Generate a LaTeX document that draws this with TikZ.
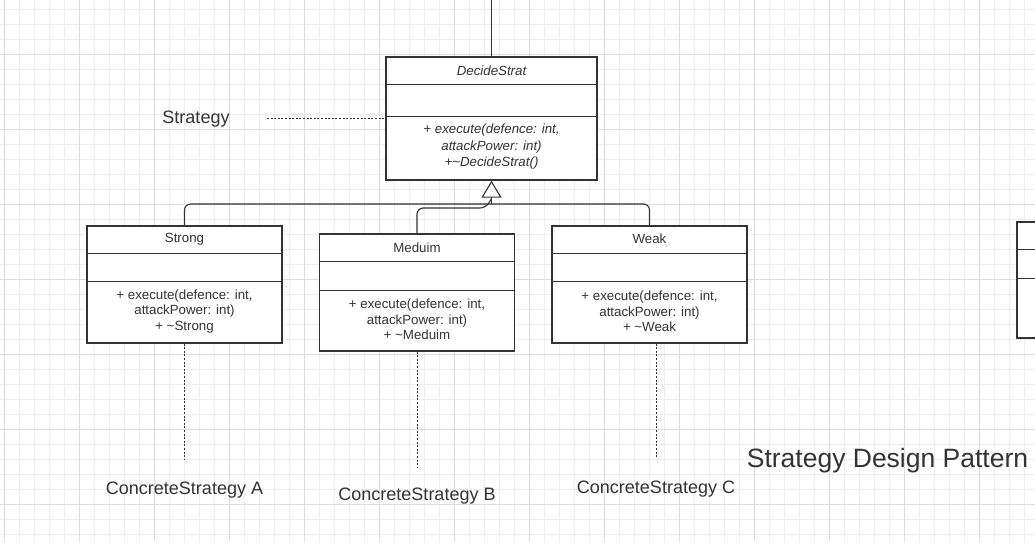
\documentclass[tikz,border=0pt]{standalone}
\usepackage{fontspec}
\setmainfont{Liberation Sans}
\usetikzlibrary{arrows.meta}
\definecolor{ink}{HTML}{333333}
\definecolor{gridminor}{HTML}{EEEEEE}
\definecolor{gridmajor}{HTML}{DDDDDD}
\begin{document}
\begin{tikzpicture}[x=1pt,y=-1pt,
  classbox/.style={draw=ink, line width=1.3pt, inner sep=0pt, fill=white},
  divider/.style={draw=ink, line width=1.2pt},
  body/.style={text=ink, font=\fontsize{13.3}{15.6}\selectfont, align=center, inner sep=0pt},
  italbody/.style={text=ink, font=\fontsize{13.3}{16.5}\selectfont\itshape, align=center, inner sep=0pt},
  biglabel/.style={text=ink, font=\fontsize{18}{22}\selectfont, anchor=base, inner sep=0pt},
  titlelabel/.style={text=ink, font=\fontsize{26.5}{30}\selectfont, anchor=base, inner sep=0pt},
  dotline/.style={draw=ink, line width=0.9pt, dash pattern=on 2pt off 1.6pt},
  wire/.style={draw=ink, line width=1.1pt, rounded corners=6pt},
  inherit/.style={draw=ink, line width=1.1pt, -{Triangle[open, length=17pt, width=20pt, line width=1.1pt]}}
]
\clip (0,0) rectangle (1035,542);
\fill[white] (0,0) rectangle (1035,542);
% grid
\foreach \x in {4,19,...,1034} \draw[gridminor, line width=0.7pt] (\x,0) -- (\x,542);
\foreach \y in {9,24,...,540} \draw[gridminor, line width=0.7pt] (0,\y) -- (1035,\y);
\foreach \x in {4,79,...,1034} \draw[gridmajor, line width=0.9pt] (\x,0) -- (\x,542);
\foreach \y in {54,129,...,540} \draw[gridmajor, line width=0.9pt] (0,\y) -- (1035,\y);

% DecideStrat
\node[classbox, minimum width=211pt, minimum height=123pt] (ds) at (491.5,118.5) {};
\draw[divider] ([yshift=-28pt]ds.north west) -- ([yshift=-28pt]ds.north east);
\draw[divider] ([yshift=-60pt]ds.north west) -- ([yshift=-60pt]ds.north east);
\node[italbody] (dst) at (491.5,70.5) {DecideStrat};
\node[italbody] (dsm) at (491.5,147) {+ execute(defence: int,\\attackPower: int)\\+\textasciitilde DecideStrat()};

% Strong
\node[classbox, minimum width=195pt, minimum height=117pt] (strong) at (184.5,284.5) {};
\draw[divider] ([yshift=-28pt]strong.north west) -- ([yshift=-28pt]strong.north east);
\draw[divider] ([yshift=-56pt]strong.north west) -- ([yshift=-56pt]strong.north east);
\node[body] (strongt) at (184.5,239.5) {Strong};
\node[body] (strongm) at (184.5,311.5) {+ execute(defence: int,\\attackPower: int)\\+ \textasciitilde Strong};

% Meduim
\node[classbox, minimum width=195pt, minimum height=117pt] (med) at (417,292.5) {};
\draw[divider] ([yshift=-28.5pt]med.north west) -- ([yshift=-28.5pt]med.north east);
\draw[divider] ([yshift=-57pt]med.north west) -- ([yshift=-57pt]med.north east);
\node[body] (medt) at (417,247.5) {Meduim};
\node[body] (medm) at (417,319.5) {+ execute(defence: int,\\attackPower: int)\\+ \textasciitilde Meduim};

% Weak
\node[classbox, minimum width=195pt, minimum height=117pt] (weak) at (649.5,284.5) {};
\draw[divider] ([yshift=-28pt]weak.north west) -- ([yshift=-28pt]weak.north east);
\draw[divider] ([yshift=-56pt]weak.north west) -- ([yshift=-56pt]weak.north east);
\node[body] (weakt) at (649.5,238.5) {Weak};
\node[body] (weakm) at (649.5,311.5) {+ execute(defence: int,\\attackPower: int)\\+ \textasciitilde Weak};

% partial box at right edge
\node[classbox, minimum width=200pt, minimum height=116pt] (extra) at (1117,280) {};
\draw[divider] ([yshift=-28pt]extra.north west) -- ([yshift=-28pt]extra.north east);
\draw[divider] ([yshift=-57pt]extra.north west) -- ([yshift=-57pt]extra.north east);

% top connector
\coordinate (topend) at (491.5,0);
\draw[draw=ink, line width=1.1pt] (topend) -- (ds.north);

% inheritance
\coordinate (junc) at (491.5,204);
\coordinate (medbend) at (486,208);
\draw[wire] (strong.north) |- (junc) -| (weak.north);
\draw[wire] (med.north) |- (medbend) -- (491.5,198.5);
\draw[inherit] (junc) -- (ds.south);

% Strategy label
\node[biglabel] (stratlbl) at (196,123) {Strategy};
\coordinate (stratend) at (267,118.5);
\draw[dotline] (stratend) -- (ds.west);

% concrete strategy labels
\node[biglabel] (ca) at (184.5,494) {ConcreteStrategy A};
\node[biglabel] (cb) at (417,500) {ConcreteStrategy B};
\node[biglabel] (cc) at (656,493.5) {ConcreteStrategy C};
\coordinate (ea) at (184.5,459);
\coordinate (eb) at (417,467);
\coordinate (ec) at (656.5,458);
\draw[dotline] (strong.south) -- (ea);
\draw[dotline] (med.south) -- (eb);
\draw[dotline] ([xshift=7pt]weak.south) -- (ec);

% title
\node[titlelabel] (title) at (887.5,467) {Strategy Design Pattern};
\end{tikzpicture}
\end{document}
